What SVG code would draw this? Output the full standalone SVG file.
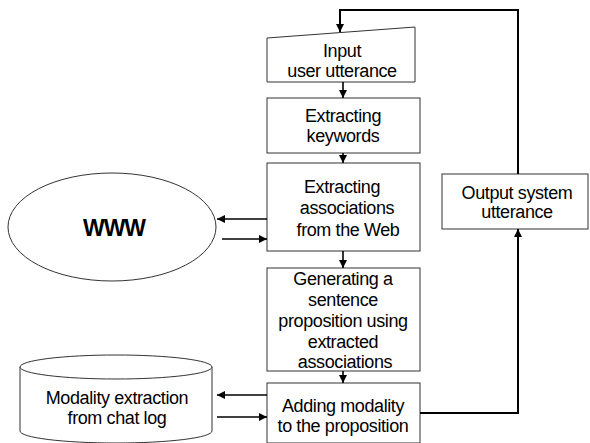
<svg xmlns="http://www.w3.org/2000/svg" width="590" height="443" viewBox="0 0 590 443">
<style>
.box{fill:#fff;stroke:#333;stroke-width:1}
.t{font-family:"Liberation Sans",Arial,sans-serif;font-size:18px;letter-spacing:-0.4px;fill:#000;text-anchor:middle}
.w{font-family:"Liberation Sans",Arial,sans-serif;font-size:23px;font-weight:bold;fill:#000;text-anchor:middle;letter-spacing:-1px}
.c{fill:none;stroke:#000;stroke-width:2}
.c1{fill:none;stroke:#000;stroke-width:1.6}
</style>
<defs>
<marker id="ah" viewBox="0 0 10 10" refX="10" refY="5" markerWidth="8" markerHeight="8" markerUnits="userSpaceOnUse" orient="auto">
<path d="M0,0 L10,5 L0,10 z" fill="#000"/>
</marker>
</defs>
<rect width="590" height="443" fill="#fff"/>
<g id="input">
<polygon class="box" points="267,38 415,27 415,82 267,82"/>
<text class="t" x="342" y="57">Input</text>
<text class="t" x="342" y="77">user utterance</text>
</g>
<g id="keywords">
<rect class="box" x="267" y="98" width="153" height="55"/>
<text class="t" x="343" y="122">Extracting</text>
<text class="t" x="343" y="142">keywords</text>
</g>
<g id="associations">
<rect class="box" x="267" y="163" width="153" height="88"/>
<text class="t" x="342" y="193">Extracting</text>
<text class="t" x="347" y="214">associations</text>
<text class="t" x="348" y="236">from the Web</text>
</g>
<g id="generating">
<rect class="box" x="267" y="268" width="153" height="103"/>
<text class="t" x="343" y="285">Generating a</text>
<text class="t" x="343" y="306">sentence</text>
<text class="t" x="343" y="327">proposition using</text>
<text class="t" x="343" y="348">extracted</text>
<text class="t" x="345" y="368">associations</text>
</g>
<g id="adding">
<rect class="box" x="267" y="383" width="153" height="60"/>
<text class="t" x="343" y="412">Adding modality</text>
<text class="t" x="343" y="432">to the proposition</text>
</g>
<g id="output">
<rect class="box" x="442" y="174" width="146" height="55"/>
<text class="t" x="517" y="199">Output system</text>
<text class="t" x="517" y="218">utterance</text>
</g>
<g id="www">
<ellipse class="box" cx="112" cy="227" rx="104" ry="54"/>
<text class="w" x="114" y="236">WWW</text>
</g>
<g id="chatlog">
<path class="box" d="M20,367 L20,431 A96,12 0 0 0 212,431 L212,367 A96,12 0 0 0 20,367 Z"/>
<path class="box" d="M20,367 A96,12 0 0 0 212,367" fill="none"/>
<text class="t" x="117" y="404">Modality extraction</text>
<text class="t" x="117" y="424">from chat log</text>
</g>
<g id="connectors">
<path class="c" d="M518,174 L518,10 L340,10 L340,32" marker-end="url(#ah)"/>
<path class="c1" d="M343,82 L343,98" marker-end="url(#ah)"/>
<path class="c1" d="M343,153 L343,163" marker-end="url(#ah)"/>
<path class="c1" d="M343,251 L343,268" marker-end="url(#ah)"/>
<path class="c1" d="M343,371 L343,383" marker-end="url(#ah)"/>
<path class="c1" d="M267,219 L217,219" marker-end="url(#ah)"/>
<path class="c1" d="M222,239 L267,239" marker-end="url(#ah)"/>
<path class="c1" d="M267,395 L217,395" marker-end="url(#ah)"/>
<path class="c1" d="M217,417 L267,417" marker-end="url(#ah)"/>
<path class="c" d="M420,413 L518,413 L518,229" marker-end="url(#ah)"/>
</g>
</svg>
